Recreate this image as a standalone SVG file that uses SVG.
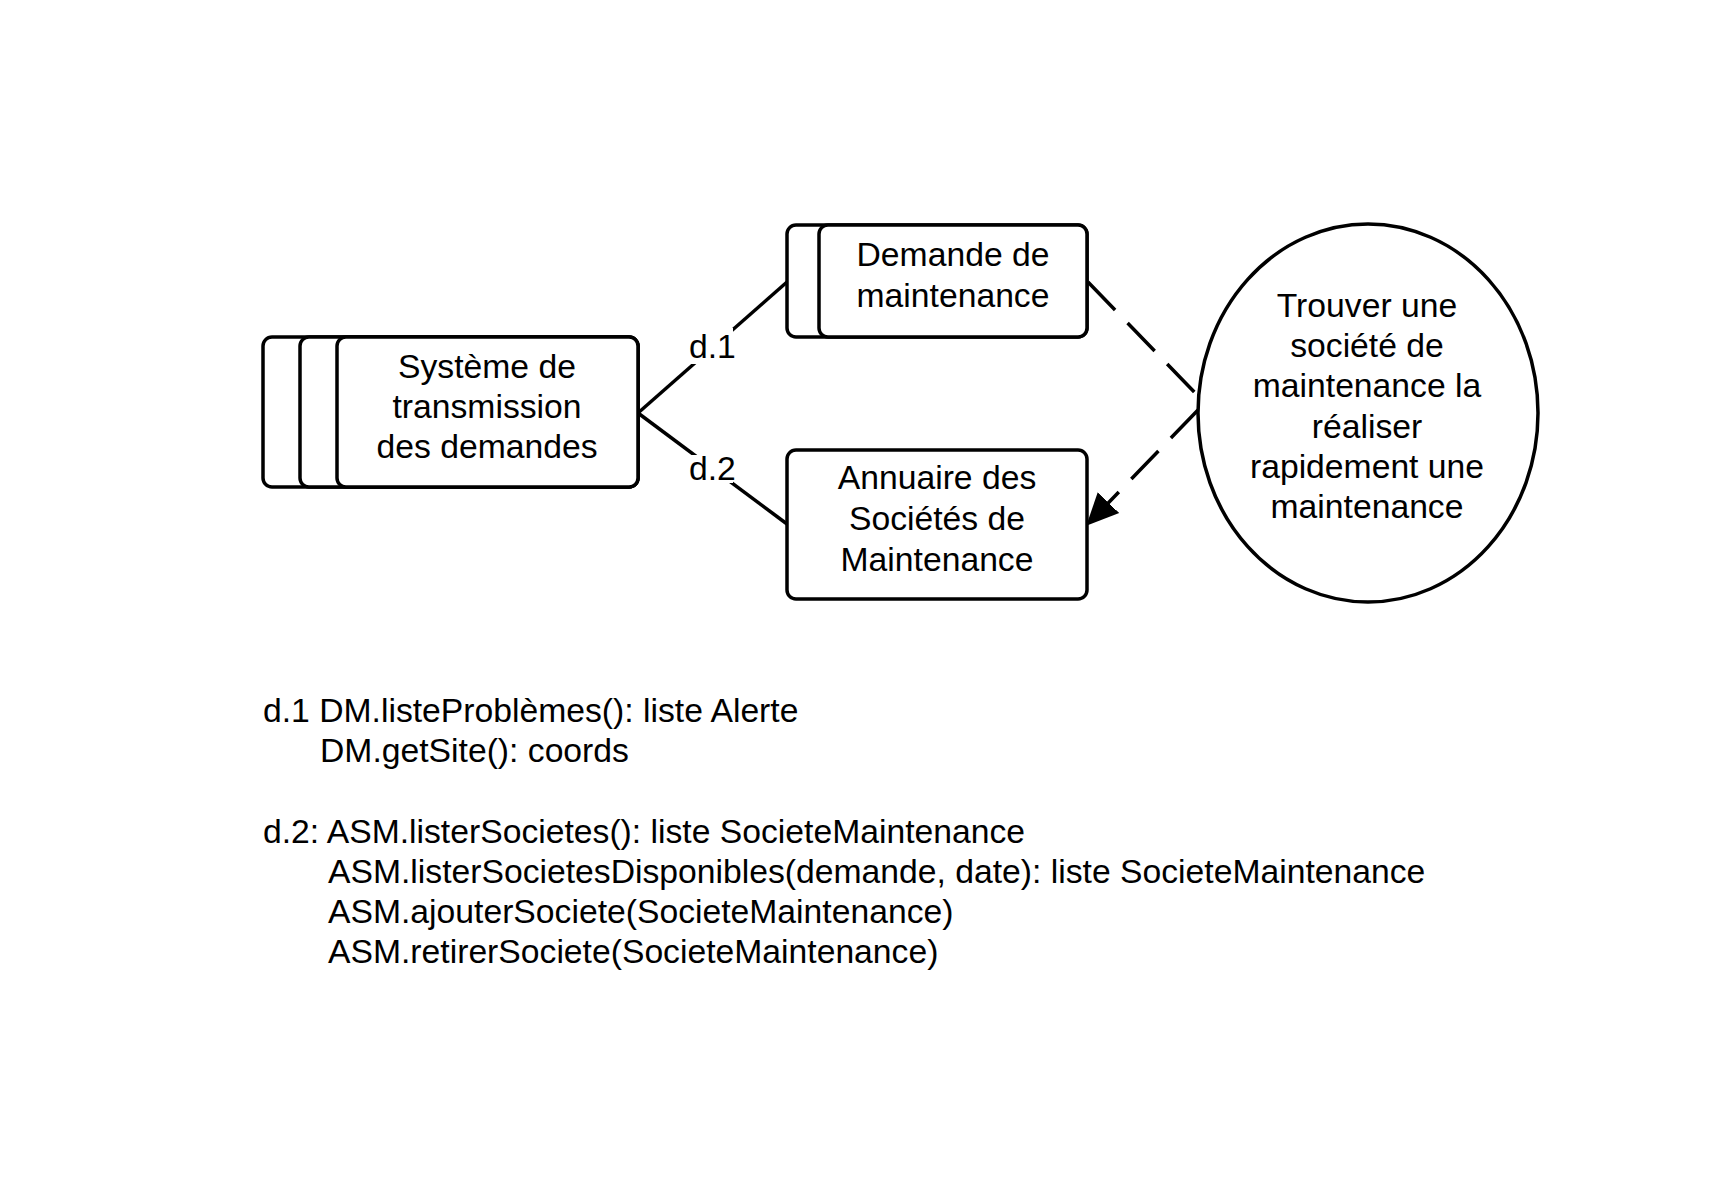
<svg xmlns="http://www.w3.org/2000/svg" width="1730" height="1179" viewBox="0 0 1730 1179">
<style>
  .box { fill: #ffffff; stroke: #000000; stroke-width: 3.5; }
  .txt { font-family: "Liberation Sans", Arial, sans-serif; font-size: 33.7px; fill: #000000; }
  .mid { text-anchor: middle; }
  .link { stroke: #000000; stroke-width: 3.5; fill: none; }
  .dash { stroke: #000000; stroke-width: 3.5; fill: none; stroke-dasharray: 39 18; }
  .lblbg { fill: #ffffff; stroke: none; }
</style>
<defs>
  <marker id="arrow" markerUnits="userSpaceOnUse" markerWidth="32" markerHeight="32" viewBox="0 0 30 28" refX="29" refY="14" orient="auto">
    <path d="M0,0 L30,14 L0,28 Z" fill="#000000"/>
  </marker>
</defs>
<rect width="1730" height="1179" fill="#ffffff"/>

<g id="connectors">
  <line class="link" x1="638" y1="413" x2="787" y2="282"/>
  <line class="link" x1="638" y1="413" x2="787" y2="524"/>
  <rect class="lblbg" x="689" y="328" width="44" height="36"/>
  <text class="txt" x="689" y="358">d.1</text>
  <rect class="lblbg" x="689" y="455" width="44" height="28"/>
  <text class="txt" x="689" y="480">d.2</text>
  <line class="dash" x1="1088" y1="282" x2="1199" y2="397"/>
  <line class="dash" x1="1198" y1="410" x2="1087" y2="525" marker-end="url(#arrow)"/>
</g>

<g id="node-systeme">
  <rect class="box" x="263" y="337" width="375" height="150" rx="9"/>
  <rect class="box" x="300" y="337" width="338" height="150" rx="9"/>
  <rect class="box" x="337" y="337" width="301" height="150" rx="9"/>
  <text class="txt mid" x="487" y="378">Système de</text>
  <text class="txt mid" x="487" y="418">transmission</text>
  <text class="txt mid" x="487" y="458">des demandes</text>
</g>

<g id="node-demande">
  <rect class="box" x="787" y="225" width="300" height="112" rx="9"/>
  <rect class="box" x="819" y="225" width="268" height="112" rx="9"/>
  <text class="txt mid" x="953" y="266">Demande de</text>
  <text class="txt mid" x="953" y="307">maintenance</text>
</g>

<g id="node-annuaire">
  <rect class="box" x="787" y="450" width="300" height="149" rx="9"/>
  <text class="txt mid" x="937" y="489">Annuaire des</text>
  <text class="txt mid" x="937" y="530">Sociétés de</text>
  <text class="txt mid" x="937" y="571">Maintenance</text>
</g>

<g id="node-trouver">
  <ellipse class="box" cx="1368" cy="413" rx="170" ry="189"/>
  <text class="txt mid" x="1367" y="317">Trouver une</text>
  <text class="txt mid" x="1367" y="357">société de</text>
  <text class="txt mid" x="1367" y="397">maintenance la</text>
  <text class="txt mid" x="1367" y="438">réaliser</text>
  <text class="txt mid" x="1367" y="478">rapidement une</text>
  <text class="txt mid" x="1367" y="518">maintenance</text>
</g>

<g id="notes">
  <text class="txt" x="263" y="722">d.1 DM.listeProblèmes(): liste Alerte</text>
  <text class="txt" x="320" y="762">DM.getSite(): coords</text>
  <text class="txt" x="263" y="843">d.2: ASM.listerSocietes(): liste SocieteMaintenance</text>
  <text class="txt" x="328" y="883">ASM.listerSocietesDisponibles(demande, date): liste SocieteMaintenance</text>
  <text class="txt" x="328" y="923">ASM.ajouterSociete(SocieteMaintenance)</text>
  <text class="txt" x="328" y="963">ASM.retirerSociete(SocieteMaintenance)</text>
</g>
</svg>
